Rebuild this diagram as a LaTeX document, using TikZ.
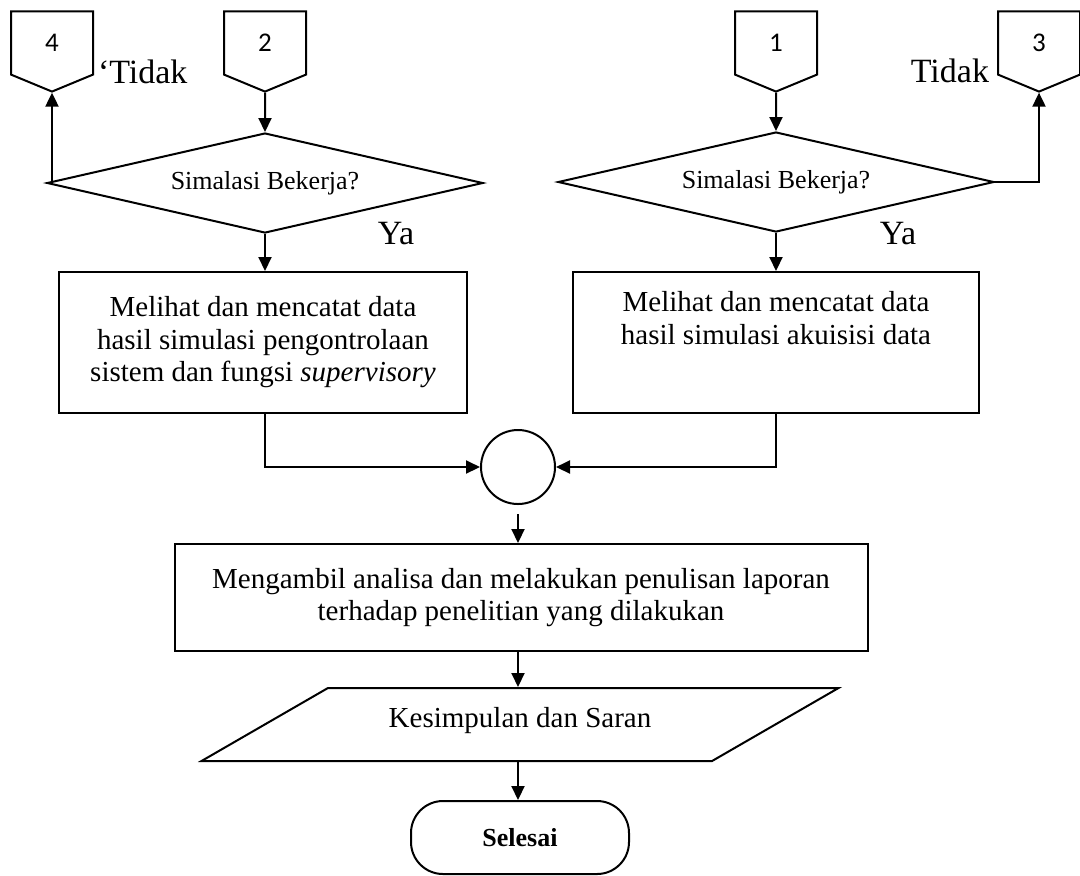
\documentclass[tikz,border=0pt]{standalone}
\usepackage{fontspec}
\setmainfont{Liberation Serif}
\newfontfamily\digitfont{Carlito}
\usetikzlibrary{shapes.geometric,shapes.symbols,arrows.meta}

\begin{document}
\begin{tikzpicture}[x=0.5pt,y=-0.5pt,line width=1pt,
  >={Triangle[length=7pt,width=6.5pt]},
  page node/.style={signal,signal to=south,signal pointer angle=135,draw,
    minimum width=41pt,minimum height=33pt,inner sep=0pt,
    font=\digitfont\fontsize{13.5}{16}\selectfont},
  decision node/.style={diamond,aspect=4.36,draw,minimum width=218pt,minimum height=50pt,
    inner sep=0pt,font=\fontsize{13}{15}\selectfont},
  process node/.style={rectangle,draw,align=center,inner sep=0pt,
    font=\fontsize{14.5}{16.25}\selectfont},
  label node/.style={inner sep=0pt,font=\fontsize{17}{20}\selectfont}]
  \useasboundingbox (0,0) rectangle (1080,875);

  \node[page node] (k4) at (52,43) {4};
  \node[page node] (k2) at (265,43) {2};
  \node[page node] (k1) at (776,43) {1};
  \node[page node] (k3) at (1039,43) {3};

  \node[decision node] (d1) at (265,183) {Simalasi Bekerja?};
  \node[decision node] (d2) at (776,182) {Simalasi Bekerja?};

  \node[process node,minimum width=204pt,minimum height=70.5pt] (p1) at (263,342.5)
    {Melihat dan mencatat data\\hasil simulasi pengontrolaan\\sistem dan fungsi \textit{supervisory}};
  \node[process node,minimum width=203pt,minimum height=70.5pt,text depth=24.5pt] (p2) at (776,342.5)
    {Melihat dan mencatat data\\hasil simulasi akuisisi data};

  \node[circle,draw,minimum size=37pt,inner sep=0pt] (o) at (518,467) {};

  \node[process node,minimum width=346.5pt,minimum height=53.5pt] (r) at (521,597.5)
    {Mengambil analisa dan melakukan penulisan laporan\\terhadap penelitian yang dilakukan};

  \node[trapezium,trapezium left angle=30,trapezium right angle=150,trapezium stretches body=true,
    draw,minimum width=318.5pt,text height=19.5pt,text depth=17pt,inner sep=0pt,
    font=\fontsize{14.5}{16.25}\selectfont] (s) at (520,724.5) {Kesimpulan dan Saran};

  \node[rectangle,rounded corners=16pt,draw,minimum width=109pt,minimum height=36.5pt,
    font=\bfseries\fontsize{13}{15}\selectfont] (e) at (520,837.5) {Selesai};

  \node[label node,anchor=base west] (t1) at (97,83) {‘Tidak};
  \node[label node,anchor=base east] (t2) at (990,82) {Tidak};
  \node[label node,anchor=base] (y1) at (396,244) {Ya};
  \node[label node,anchor=base] (y2) at (898,244) {Ya};

  \coordinate (m) at (518,0);
  \path[->]
   (k2) edge (d1)
   (d1) edge (d1.south |- p1.north)
   (k1) edge (d2)
   (d2) edge (p2)
   (o) edge[shorten <=4.5pt] (m |- r.north)
   (m |- r.south) edge (m |- s.north)
   (m |- s.south) edge (m |- e.north);
  \draw[->] (d1.west) -| (k4.south);
  \draw[->] (d2.east) -| (k3.south);
  \draw[->] (p1.south -| d1.south) |- (o.west);
  \draw[->] (p2.south) |- (o.east);
\end{tikzpicture}
\end{document}
